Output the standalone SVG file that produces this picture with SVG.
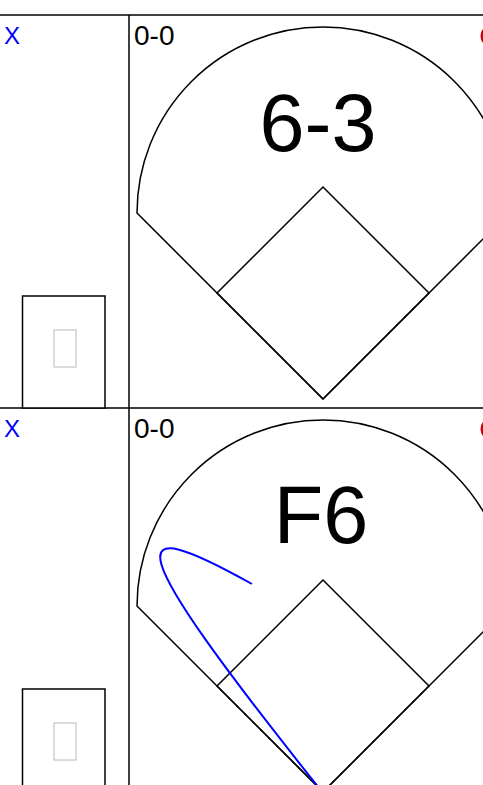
<svg xmlns="http://www.w3.org/2000/svg" width="483" height="785" viewBox="0 0 483 785">
<style>
.grid{stroke:#000;stroke-width:1.5;fill:none}
.box{stroke:#000;stroke-width:1.5;fill:#fff}
.tofu{stroke:#d0d0d0;stroke-width:1.5;fill:none}
.field{stroke:#000;stroke-width:1.5;fill:none;stroke-linejoin:miter}
.xmark{font-family:"Liberation Sans",Arial,sans-serif;font-size:24px;fill:#0000ff}
.count{font-family:"Liberation Sans",Arial,sans-serif;font-size:28px;fill:#000}
.result{font-family:"Liberation Sans",Arial,sans-serif;font-size:81px;fill:#000;text-anchor:middle}
.red{stroke:#d00000;stroke-width:3;fill:none}
.hit{stroke:#0000ff;stroke-width:2;fill:none}
</style>
<rect width="483" height="785" fill="#fff"/>
<g id="connectors">
<line class="grid" x1="0" y1="15" x2="483" y2="15"/>
<line class="grid" x1="129" y1="15" x2="129" y2="785"/>
<line class="grid" x1="0" y1="408" x2="483" y2="408"/>
</g>
<g id="cell1">
<text class="xmark" x="4" y="44">X</text>
<rect class="box" x="22.5" y="296" width="82.5" height="112"/>
<rect class="tofu" x="54" y="330" width="22" height="37"/>
<text class="count" x="134" y="45">0-0</text>
<circle class="red" cx="492" cy="36" r="10"/>
<path class="field" d="M137,213 L323,399 L509,213 A186,186 0 0 0 137,213 Z"/>
<path class="field" d="M323,399 L217,293 L323,187 L429,293 Z"/>
<text class="result" x="318" y="151">6-3</text>
</g>
<g id="cell2" transform="translate(0,393)">
<text class="xmark" x="4" y="44">X</text>
<rect class="box" x="22.5" y="296" width="82.5" height="120"/>
<rect class="tofu" x="54" y="330" width="22" height="37"/>
<text class="count" x="134" y="45">0-0</text>
<circle class="red" cx="492" cy="36" r="10"/>
<path class="field" d="M137,213 L323,399 L509,213 A186,186 0 0 0 137,213 Z"/>
<path class="field" d="M323,399 L217,293 L323,187 L429,293 Z"/>
<text class="result" x="321" y="150">F6</text>
<path class="hit" d="M323,400 C118,143 121,118 252,191"/>
</g>
</svg>
